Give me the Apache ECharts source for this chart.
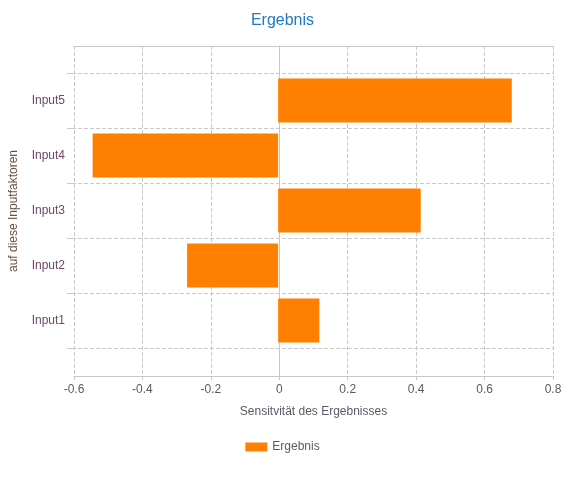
<!DOCTYPE html>
<html>
<head>
<meta charset="utf-8">
<script src="https://cdn.jsdelivr.net/npm/echarts@6/dist/echarts.min.js"></script>
<style>
  html, body { margin: 0; padding: 0; background: #fff; }
  #chart { width: 565px; height: 478px; }
</style>
</head>
<body>
<div id="chart"></div>
<script>
const categories = ['Input1', 'Input2', 'Input3', 'Input4', 'Input5'];
const values = [0.12, -0.265, 0.415, -0.54, 0.68];
const xMin = -0.6;
const xMax = 0.8;
const xStep = 0.2;

const gridColor = '#c8c8c8';
const textColor = '#5a5a66';

function initChart() {
    const chart = echarts.init(document.getElementById('chart'));
    const option = {
        textStyle: { fontFamily: 'Liberation Sans, Arial, sans-serif' },
        title: {
            text: 'Ergebnis',
            left: 'center',
            top: 8,
            textStyle: { color: '#1f78c8', fontSize: 16, fontWeight: 'normal' }
        },
        legend: {
            bottom: 20,
            left: 'center',
            icon: 'rect',
            itemWidth: 22,
            itemHeight: 9,
            itemGap: 10,
            textStyle: { color: textColor, fontSize: 12 },
            data: ['Ergebnis']
        },
        grid: [
            // outer frame with value axis
            { left: 72, right: 12, top: 46, bottom: 102 },
            // inner band for the categories
            { left: 72, right: 12, top: 73, bottom: 130 }
        ],
        xAxis: [
            {
                gridIndex: 0,
                type: 'value',
                min: xMin,
                max: xMax,
                interval: xStep,
                name: 'Sensitvität des Ergebnisses',
                nameLocation: 'middle',
                nameGap: 30,
                nameTextStyle: { color: textColor, fontSize: 12 },
                axisLine: { show: true, lineStyle: { color: gridColor } },
                axisTick: { show: true, length: 4, lineStyle: { color: gridColor } },
                axisLabel: {
                    color: textColor,
                    fontSize: 12,
                    margin: 8,
                    formatter: v => String(Math.round(v * 10) / 10)
                },
                splitLine: { show: true, lineStyle: { color: gridColor, type: 'dashed' } }
            },
            {
                gridIndex: 0,
                type: 'value',
                position: 'top',
                min: xMin,
                max: xMax,
                interval: xStep,
                axisLine: { show: true, onZero: false, lineStyle: { color: gridColor } },
                axisTick: { show: false },
                axisLabel: { show: false },
                splitLine: { show: false }
            },
            {
                gridIndex: 1,
                type: 'value',
                min: xMin,
                max: xMax,
                interval: xStep,
                show: false
            }
        ],
        yAxis: [
            {
                gridIndex: 0,
                type: 'value',
                min: 0,
                max: 1,
                name: 'auf diese Inputfaktoren',
                nameLocation: 'middle',
                nameGap: 54,
                nameTextStyle: { color: '#6b5040', fontSize: 12 },
                axisLine: { show: true, onZero: true, onZeroAxisIndex: 0, lineStyle: { color: gridColor } },
                axisTick: { show: false },
                axisLabel: { show: false },
                splitLine: { show: false }
            },
            {
                gridIndex: 1,
                type: 'category',
                data: categories,
                axisLine: { show: false, onZero: false },
                axisTick: { show: true, length: 5, lineStyle: { color: gridColor } },
                axisLabel: { color: '#6e4868', fontSize: 12, margin: 7 },
                splitLine: { show: true, lineStyle: { color: gridColor, type: 'dashed' } }
            }
        ],
        series: [{
            name: 'Ergebnis',
            type: 'bar',
            xAxisIndex: 2,
            yAxisIndex: 1,
            barCategoryGap: '20%',
            itemStyle: { color: '#ff8000' },
            data: values
        }]
    };
    chart.setOption(option);
}

document.addEventListener('DOMContentLoaded', initChart);
</script>
</body>
</html>
